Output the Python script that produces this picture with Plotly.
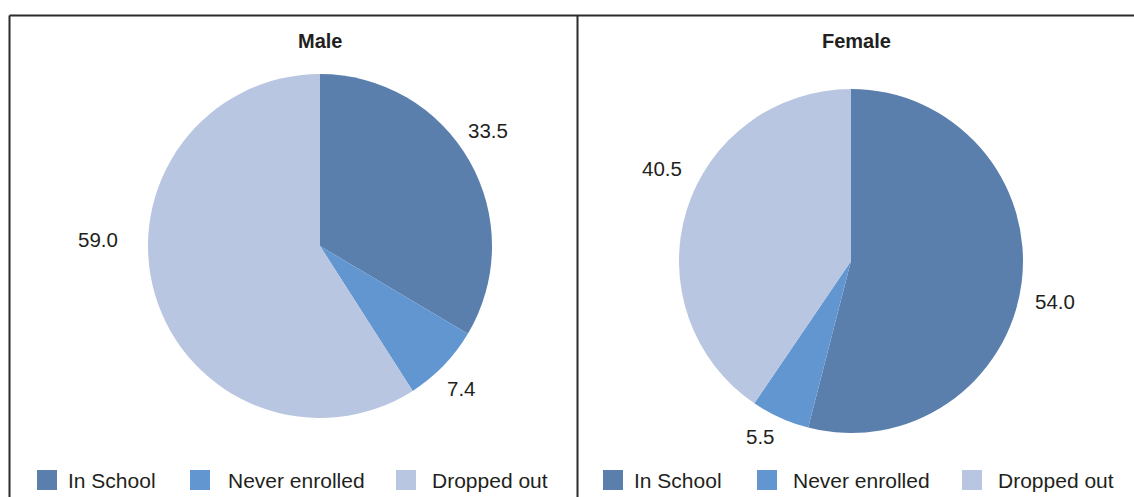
import math
import plotly.graph_objects as go

# Share of children by schooling status, by sex (%)
categories = ["In School", "Never enrolled", "Dropped out"]
male_values = [33.5, 7.4, 59.0]
female_values = [54.0, 5.5, 40.5]
panel_titles = ["Male", "Female"]

colors = ["#5a7fad", "#6296d0", "#b8c6e1"]
text_color = "#231f20"
font_family = "Liberation Sans, Arial, sans-serif"

W, H = 1134, 497


def px(x):
    return x / W


def py(y):
    return 1 - y / H


# Layout of each panel in pixels: pie centre, radius, title x, legend positions
panels = [
    dict(values=male_values, title=panel_titles[0], cx=320, cy=246, r=172, title_x=320,
         legend_sq=[37, 190, 396], legend_tx=[66, 226, 430],
         label_nudge=[(-5, 204), (1, 201), (18, 222)]),
    dict(values=female_values, title=panel_titles[1], cx=851, cy=261, r=172, title_x=856,
         legend_sq=[603, 757, 962], legend_tx=[632, 791, 996],
         label_nudge=[(4, 208), (3, 198), (9, 210)]),
]

fig = go.Figure()
annotations = []
shapes = []

for p in panels:
    cx, cy, r = p["cx"], p["cy"], p["r"]
    fig.add_trace(go.Pie(
        labels=categories,
        values=p["values"],
        sort=False,
        direction="clockwise",
        rotation=0,
        marker=dict(colors=colors, line=dict(width=0)),
        textinfo="none",
        hoverinfo="label+value",
        showlegend=False,
        domain=dict(x=[px(cx - r), px(cx + r)], y=[py(cy + r), py(cy - r)]),
    ))

    # Value labels placed outside each slice, around its mid angle
    total = sum(p["values"])
    cum = 0.0
    for v, (nudge, dist) in zip(p["values"], p["label_nudge"]):
        mid = (cum + v / 2) / total * 360 + nudge
        cum += v
        lx = cx + dist * math.sin(math.radians(mid))
        ly = cy - dist * math.cos(math.radians(mid))
        annotations.append(dict(
            x=px(lx), y=py(ly), xref="paper", yref="paper",
            text=f"{v:.1f}", showarrow=False,
            xanchor="center", yanchor="middle",
            font=dict(family=font_family, size=20.5, color=text_color),
        ))

    # Panel title
    annotations.append(dict(
        x=px(p["title_x"]), y=py(41), xref="paper", yref="paper",
        text=f"<b>{p['title']}</b>", showarrow=False,
        xanchor="center", yanchor="middle",
        font=dict(family=font_family, size=20, color=text_color),
    ))

    # Legend: colour squares and category names
    for cat, col, sx, tx in zip(categories, colors, p["legend_sq"], p["legend_tx"]):
        shapes.append(dict(
            type="rect", xref="paper", yref="paper",
            x0=px(sx), x1=px(sx + 20), y0=py(490), y1=py(470),
            fillcolor=col, line=dict(width=0),
        ))
        annotations.append(dict(
            x=px(tx), y=py(480), xref="paper", yref="paper",
            text=cat, showarrow=False, xanchor="left", yanchor="middle",
            font=dict(family=font_family, size=21, color=text_color),
        ))

# Panel frame lines
frame = dict(color="#2b2b2b", width=2)
shapes += [
    dict(type="line", xref="paper", yref="paper", x0=px(9.5), x1=1, y0=py(15.5), y1=py(15.5), line=frame),
    dict(type="line", xref="paper", yref="paper", x0=px(9.5), x1=px(9.5), y0=py(15.5), y1=0, line=frame),
    dict(type="line", xref="paper", yref="paper", x0=px(577.5), x1=px(577.5), y0=py(15.5), y1=0, line=frame),
]

fig.update_layout(
    width=W, height=H,
    margin=dict(l=0, r=0, t=0, b=0),
    paper_bgcolor="white", plot_bgcolor="white",
    annotations=annotations,
    shapes=shapes,
    showlegend=False,
)

fig.write_html("out.html")
